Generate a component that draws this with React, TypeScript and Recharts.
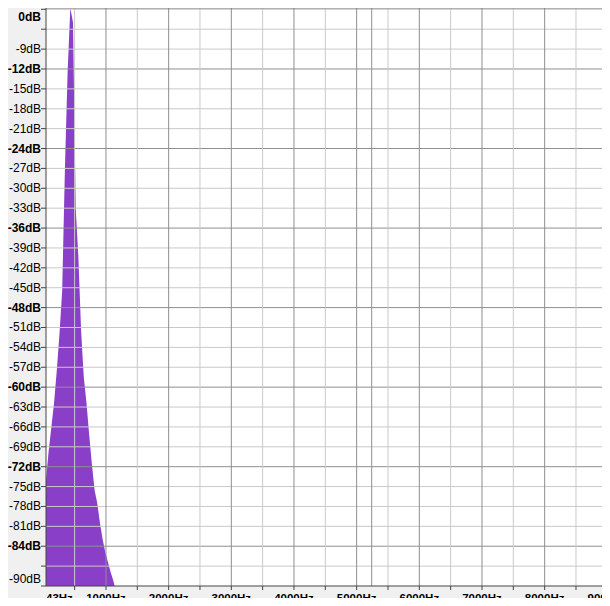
import { AreaChart, Area, XAxis, YAxis, CartesianGrid, ReferenceLine } from "recharts";

// spectrum bins (Hz) and level (dB)
const binHz = [
  43, 86, 129, 172, 215, 258, 301, 345, 388, 431, 474, 517, 560, 603, 646, 689,
  732, 775, 818, 861, 904, 947, 991, 1034, 1077, 1120, 1163,
];
const binDb = [
  -74, -69.6, -66, -62.3, -57.5, -52, -45.5, -27, -12.5, -2.8, -5, -33, -40.5,
  -51.5, -58.5, -62.4, -67.2, -71.6, -75.5, -77.5, -80.5, -83, -85, -86.5, -88,
  -89.3, -91,
];

const dbTop = -2.8;
const dbBottom = -90;
const dbTicks = [
  -3, -6, -9, -12, -15, -18, -21, -24, -27, -30, -33, -36, -39, -42, -45, -48,
  -51, -54, -57, -60, -63, -66, -69, -72, -75, -78, -81, -84, -87, -90,
];
const dbUnlabeled = [-3, -6, -87];

const hzMin = 43;
const hzMax = 10000;
const hzTicks = [
  500, 1000, 1500, 2000, 2500, 3000, 3500, 4000, 4500, 5000, 5500, 6000, 6500,
  7000, 7500, 8000, 8500, 9000, 9500,
];
const markerHz = 5240;

const PURPLE = "#8a3fc9";
const MAJOR = "#8f8f8f";
const MINOR = "#c9c9c9";
const AXIS = "#444";
const FONT = "'Liberation Sans', Arial, sans-serif";

const data = binHz.map((hz, i) => ({ hz, db: binDb[i] }));

function DbTick({ x, y, payload }: any) {
  const v = payload.value;
  let label = `${v}dB`;
  let dy = 0;
  if (v === dbTop) {
    label = "0dB";
    dy = 9;
  } else if (v === dbBottom) {
    dy = -7.5;
  } else if (dbUnlabeled.includes(v)) {
    label = "";
  }
  const bold = v === dbTop || (v % 12 === 0 && v !== dbBottom);
  return (
    <g>
      {v !== dbTop && <line x1={x - 5} x2={x} y1={y} y2={y} stroke={AXIS} />}
      {label && (
        <text
          x={x - 5}
          y={y + dy}
          textAnchor="end"
          dominantBaseline="central"
          fontSize={12}
          fontFamily={FONT}
          fontWeight={bold ? "bold" : "normal"}
          fill="#000"
        >
          {label}
        </text>
      )}
    </g>
  );
}

function HzTick({ x, y, payload }: any) {
  const v = payload.value;
  const isMin = v === hzMin;
  const label = isMin ? "43Hz" : v % 1000 === 0 ? `${v}Hz` : "";
  return (
    <g>
      {!isMin && <line x1={x} x2={x} y1={y} y2={y + 4} stroke={AXIS} />}
      {label && (
        <text
          x={x}
          y={y + 12}
          textAnchor={isMin ? "start" : "middle"}
          dominantBaseline="central"
          fontSize={11.5}
          fontFamily={FONT}
          fontWeight="bold"
          fill="#000"
        >
          {label}
        </text>
      )}
    </g>
  );
}

export default function App() {
  return (
    <div
      style={{
        width: 610,
        height: 606,
        margin: -8,
        overflow: "hidden",
        background: "#f0f0f0",
      }}
    >
      <AreaChart
        width={670}
        height={606}
        data={data}
        margin={{ top: 8, right: 0, bottom: 0, left: 0 }}
      >
        <CartesianGrid fill="#ffffff" horizontal={false} vertical={false} />
        <XAxis
          type="number"
          dataKey="hz"
          domain={[hzMin, hzMax]}
          ticks={[hzMin, ...hzTicks]}
          interval={0}
          height={20}
          tickSize={0}
          tickMargin={0}
          tickLine={false}
          axisLine={{ stroke: AXIS }}
          tick={<HzTick />}
          allowDataOverflow
        />
        <YAxis
          type="number"
          domain={[dbBottom, dbTop]}
          ticks={[dbTop, ...dbTicks]}
          interval={0}
          width={46}
          tickSize={0}
          tickMargin={0}
          tickLine={false}
          axisLine={{ stroke: AXIS }}
          tick={<DbTick />}
          allowDataOverflow
        />
        <Area
          type="linear"
          dataKey="db"
          baseValue="dataMin"
          fill={PURPLE}
          fillOpacity={1}
          stroke="none"
          isAnimationActive={false}
        />
        {dbTicks
          .filter((v) => v !== dbBottom)
          .map((v) => (
            <ReferenceLine
              key={`h${v}`}
              y={v}
              stroke={v % 12 === 0 ? MAJOR : MINOR}
              strokeWidth={1}
            />
          ))}
        {hzTicks.map((v) => (
          <ReferenceLine
            key={`v${v}`}
            x={v}
            stroke={v % 1000 === 0 ? MAJOR : MINOR}
            strokeWidth={1}
          />
        ))}
        <ReferenceLine x={markerHz} stroke={MAJOR} strokeWidth={1} />
        <ReferenceLine y={dbTop} stroke="#707070" strokeWidth={1} />
      </AreaChart>
    </div>
  );
}
